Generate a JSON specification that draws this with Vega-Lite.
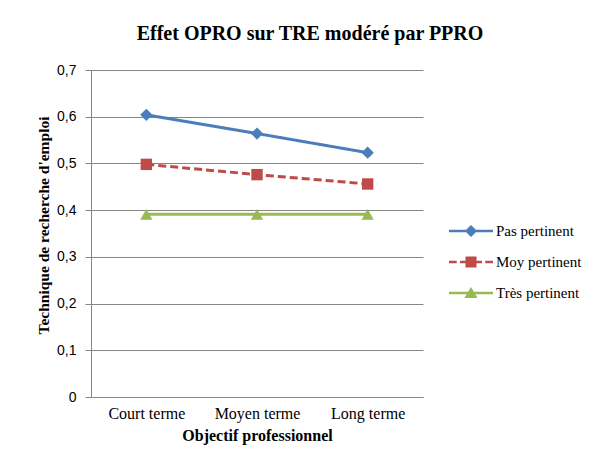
{
  "$schema": "https://vega.github.io/schema/vega-lite/v6.json",
  "width": 332,
  "height": 327,
  "autosize": {"type": "none"},
  "padding": {"left": 91, "top": 70, "right": 175, "bottom": 65},
  "background": "white",
  "config": {
    "view": {"stroke": null},
    "font": "Liberation Serif",
    "legend": {"labelFont": "Liberation Serif", "labelFontSize": 15, "labelColor": "black"}
  },
  "title": {
    "text": "Effet OPRO sur TRE modéré par PPRO",
    "font": "Liberation Serif",
    "fontSize": 20,
    "fontWeight": "bold",
    "color": "black",
    "anchor": "middle",
    "dx": 53,
    "offset": 19
  },
  "data": {
    "values": [
      {"terme": "Court terme", "groupe": "Pas pertinent", "valeur": 0.604},
      {"terme": "Moyen terme", "groupe": "Pas pertinent", "valeur": 0.564},
      {"terme": "Long terme", "groupe": "Pas pertinent", "valeur": 0.523},
      {"terme": "Court terme", "groupe": "Moy pertinent", "valeur": 0.498},
      {"terme": "Moyen terme", "groupe": "Moy pertinent", "valeur": 0.476},
      {"terme": "Long terme", "groupe": "Moy pertinent", "valeur": 0.456},
      {"terme": "Court terme", "groupe": "Très pertinent", "valeur": 0.391},
      {"terme": "Moyen terme", "groupe": "Très pertinent", "valeur": 0.391},
      {"terme": "Long terme", "groupe": "Très pertinent", "valeur": 0.391}
    ]
  },
  "encoding": {
    "x": {
      "field": "terme",
      "type": "nominal",
      "sort": ["Court terme", "Moyen terme", "Long terme"],
      "scale": {"type": "point", "padding": 0.5},
      "axis": {
        "title": "Objectif professionnel",
        "titleFont": "Liberation Serif",
        "titleFontSize": 16,
        "titleFontWeight": "bold",
        "titleColor": "black",
        "titlePadding": 6,
        "labelFont": "Liberation Serif",
        "labelFontSize": 16,
        "labelColor": "black",
        "labelAngle": 0,
        "labelPadding": 8,
        "ticks": false,
        "domainColor": "#868686",
        "grid": false
      }
    },
    "y": {
      "field": "valeur",
      "type": "quantitative",
      "scale": {"domain": [0, 0.7], "nice": false},
      "axis": {
        "values": [0, 0.1, 0.2, 0.3, 0.4, 0.5, 0.6, 0.7],
        "labelExpr": "datum.value == 0 ? '0' : replace(format(datum.value, '.1f'), '.', ',')",
        "title": "Technique de recherche d'emploi",
        "titleFont": "Liberation Serif",
        "titleFontSize": 15.5,
        "titleFontWeight": "bold",
        "titleColor": "black",
        "titleAngle": -90,
        "titleAlign": "center",
        "titleBaseline": "middle",
        "titleX": -48,
        "titleY": 155,
        "labelFont": "Liberation Sans",
        "labelFontSize": 14,
        "labelColor": "black",
        "labelPadding": 9,
        "tickSize": 6,
        "tickColor": "#868686",
        "domainColor": "#868686",
        "gridColor": "#868686",
        "grid": true
      }
    },
    "color": {
      "field": "groupe",
      "type": "nominal",
      "scale": {
        "domain": ["Pas pertinent", "Moy pertinent", "Très pertinent"],
        "range": ["#4A7EBB", "#BE4B48", "#98B954"]
      },
      "legend": {
        "title": null,
        "orient": "none",
        "legendX": 369,
        "legendY": 150,
        "labelFont": "Liberation Serif",
        "labelFontSize": 15,
        "labelColor": "black",
        "labelOffset": 14,
        "symbolSize": 484,
        "rowPadding": 12,
        "encode": {
          "labels": {
            "update": {
              "font": {"value": "Liberation Serif"},
              "fontSize": {"value": 15},
              "fill": {"value": "black"}
            }
          },
          "symbols": {
            "update": {
              "shape": {"signal": "datum.value == 'Pas pertinent' ? 'M-2,-0.11H2V0.11H-2Z M0,-0.55L0.55,0L0,0.55L-0.55,0Z' : datum.value == 'Moy pertinent' ? 'M-2,-0.12H-1.3V0.12H-2Z M-1,-0.12H-0.3V0.12H-1Z M0.3,-0.12H1V0.12H0.3Z M1.3,-0.12H2V0.12H1.3Z M-0.5,-0.5H0.5V0.5H-0.5Z' : 'M-2,-0.11H2V0.11H-2Z M0,-0.55L0.6,0.45L-0.6,0.45Z'"},
              "fill": {"signal": "scale('color', datum.value)"},
              "fillOpacity": {"value": 1},
              "strokeWidth": {"value": 0}
            }
          }
        }
      }
    }
  },
  "layer": [
    {
      "mark": {"type": "line", "strokeWidth": 3},
      "encoding": {
        "strokeDash": {
          "condition": {"test": "datum.groupe == 'Moy pertinent'", "value": [8, 4]},
          "value": [1, 0]
        }
      }
    },
    {
      "transform": [{"filter": "datum.groupe == 'Pas pertinent'"}],
      "mark": {"type": "point", "filled": true, "opacity": 1, "size": 150, "shape": "diamond"}
    },
    {
      "transform": [{"filter": "datum.groupe == 'Moy pertinent'"}],
      "mark": {"type": "point", "filled": true, "opacity": 1, "size": 130, "shape": "square"}
    },
    {
      "transform": [{"filter": "datum.groupe == 'Très pertinent'"}],
      "mark": {"type": "point", "filled": true, "opacity": 1, "size": 150, "shape": "triangle-up"}
    }
  ]
}
